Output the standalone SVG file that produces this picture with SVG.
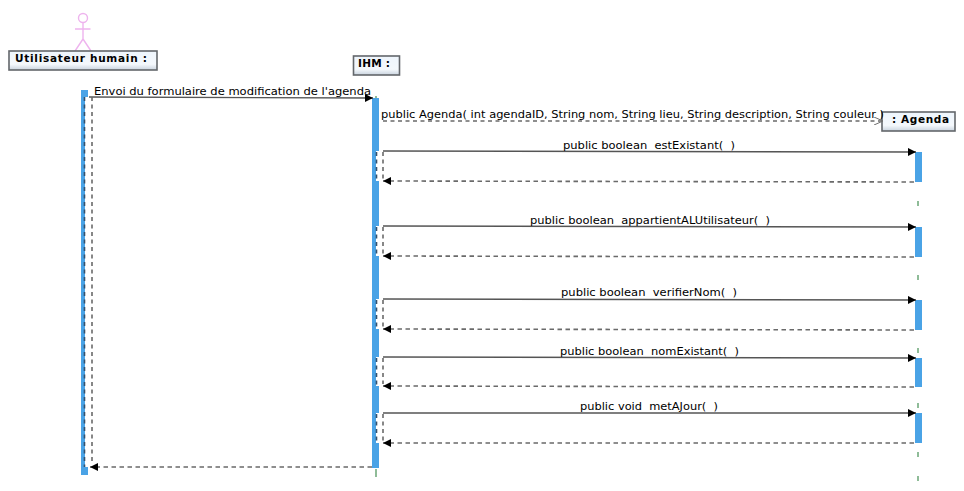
<svg xmlns="http://www.w3.org/2000/svg" width="964" height="491" viewBox="0 0 964 491">
<style>
text{font-family:"DejaVu Sans",sans-serif;font-size:10.5px;fill:#000;white-space:pre}
.b{font-weight:bold;font-size:10.5px}
.box{fill:url(#g);stroke:#63676b;stroke-width:1.6}
.act{fill:#4aa3e6}
.gap{fill:#fff}
.life{stroke:#8fbc98;stroke-width:2;fill:none}
.call{stroke:#555;stroke-width:1.4;fill:none;marker-end:url(#ah)}
.ret{stroke:#6a6a6a;stroke-width:1.6;stroke-dasharray:4.5 3.500;fill:none;marker-end:url(#ah)}
.dash{stroke:#6a6a6a;stroke-width:1.6;stroke-dasharray:4 3.500;fill:none}
.dark{stroke:#34526e;stroke-width:1.6;stroke-dasharray:4 3.500;fill:none}
.stick{stroke:#eeb4ee;stroke-width:1.4;fill:none}
</style>
<defs>
<linearGradient id="g" x1="0" y1="0" x2="0" y2="1"><stop offset="0" stop-color="#eef5fc"/><stop offset=".7" stop-color="#f4f8fc"/><stop offset="1" stop-color="#c9d3de"/></linearGradient>
<marker id="ah" viewBox="0 0 8 8" refX="8" refY="4" markerWidth="8" markerHeight="8" markerUnits="userSpaceOnUse" orient="auto"><path d="M0 0L8 4L0 8Z" fill="#000"/></marker>
<marker id="open" viewBox="0 0 9 8" refX="9" refY="4" markerWidth="9" markerHeight="8" markerUnits="userSpaceOnUse" orient="auto"><path d="M0 0L9 4L0 8" fill="none" stroke="#707070" stroke-width="1"/></marker>
</defs>
<g id="lifelines">
<path class="life" d="M376 96V98M376 469V477"/>
<path class="life" stroke-dasharray="5 20" d="M918 201V207M918 275V281M918 348V354M918 403V409M918 452V458M918 476V482"/>
</g>
<g id="actor-utilisateur">
<g class="stick"><circle cx="83" cy="18" r="4.5"/><path d="M83 22.500V39M75 29H90.500M83 39L75 51M83 39L91 51"/></g>
<rect class="box" x="9" y="51" width="148" height="19"/>
<text class="b" x="15" y="62" textLength="132" lengthAdjust="spacing">Utilisateur humain :</text>
</g>
<g id="node-ihm">
<rect class="box" x="353.500" y="56" width="46" height="19"/>
<text class="b" x="358" y="67" textLength="32" lengthAdjust="spacing">IHM :</text>
</g>
<g id="node-agenda">
<rect class="box" x="882" y="112" width="73" height="19"/>
<text class="b" x="892" y="123" textLength="57" lengthAdjust="spacing">: Agenda</text>
</g>
<g id="activations">
<rect class="act" x="81" y="90" width="7" height="385"/><rect class="gap" x="85" y="97" width="3" height="370"/>
<rect class="act" x="372" y="98" width="7" height="370"/>
<rect class="gap" x="376" y="151" width="3" height="30"/><rect class="gap" x="376" y="226" width="3" height="30"/><rect class="gap" x="376" y="299" width="3" height="30"/><rect class="gap" x="376" y="357" width="3" height="29"/><rect class="gap" x="376" y="413" width="3" height="30"/>
<rect class="act" x="915" y="152" width="7" height="30"/><rect class="act" x="915" y="227" width="7" height="30"/><rect class="act" x="915" y="300" width="7" height="30"/><rect class="act" x="915" y="358" width="7" height="29"/><rect class="act" x="915" y="413" width="7" height="30"/>
</g>
<g id="connectors">
<path class="call" d="M89 97L373 98"/>
<path class="dark" d="M84.500 97V467"/><path class="dash" d="M92 97V463"/>
<path class="ret" d="M372 467H90"/>
<path class="dash" style="marker-end:url(#open)" d="M383 121H883"/>
<path class="call" d="M383 151L916 152"/><path class="ret" d="M914 182L383 181"/><path class="dark" d="M376.500 152V181"/><path class="dash" d="M383 152V179"/>
<path class="call" d="M383 226L916 227"/><path class="ret" d="M914 257L383 256"/><path class="dark" d="M376.500 227V256"/><path class="dash" d="M383 227V254"/>
<path class="call" d="M383 299L916 300"/><path class="ret" d="M914 330L383 329"/><path class="dark" d="M376.500 300V329"/><path class="dash" d="M383 300V327"/>
<path class="call" d="M383 357L916 358"/><path class="ret" d="M914 387L383 386"/><path class="dark" d="M376.500 358V386"/><path class="dash" d="M383 358V384"/>
<path class="call" d="M383 413H916"/><path class="ret" d="M914 443H383"/><path class="dark" d="M376.500 414V443"/><path class="dash" d="M383 414V441"/>
</g>
<g id="labels">
<text x="94" y="95" textLength="277" lengthAdjust="spacingAndGlyphs">Envoi du formulaire de modification de l'agenda</text>
<text x="381" y="118" textLength="503" lengthAdjust="spacingAndGlyphs">public Agenda( int agendaID, String nom, String lieu, String description, String couleur )</text>
<text x="563" y="149" textLength="172" lengthAdjust="spacingAndGlyphs">public boolean  estExistant(  )</text>
<text x="530" y="224" textLength="240" lengthAdjust="spacingAndGlyphs">public boolean  appartientALUtilisateur(  )</text>
<text x="561" y="296" textLength="176" lengthAdjust="spacingAndGlyphs">public boolean  verifierNom(  )</text>
<text x="560" y="355" textLength="179" lengthAdjust="spacingAndGlyphs">public boolean  nomExistant(  )</text>
<text x="580" y="410" textLength="138" lengthAdjust="spacingAndGlyphs">public void  metAJour(  )</text>
</g>
</svg>
